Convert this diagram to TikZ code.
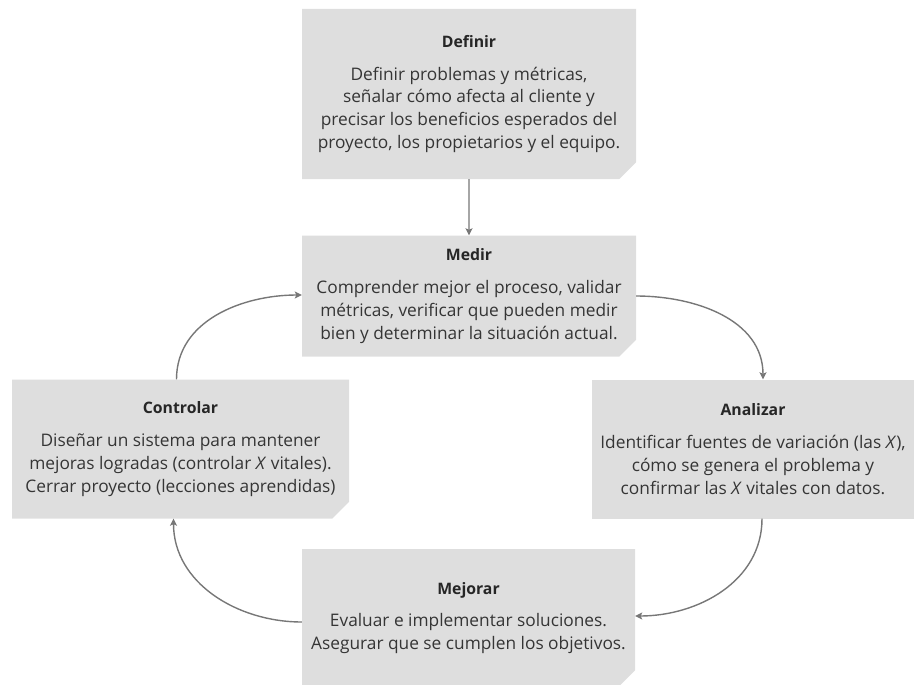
\documentclass[tikz,border=0pt]{standalone}
\usepackage{fontspec}
\setmainfont{Open Sans}
\usetikzlibrary{arrows.meta,shapes.misc}
\definecolor{cajagris}{HTML}{DEDEDE}
\definecolor{textogris}{HTML}{353535}
\definecolor{flechagris}{HTML}{777777}
\tikzset{
  paso/.style={chamfered rectangle, chamfered rectangle corners=south east,
    chamfered rectangle xsep=13pt, fill=cajagris, draw=none, inner ysep=0pt, inner xsep=-10pt,
    align=center, text=textogris, font=\fontsize{17.3}{22.8}\selectfont},
  flujo/.style={-{Stealth[length=7pt,width=7pt,inset=1.5pt]}, line width=1.4pt, flechagris}
}
\newcommand{\titulo}[1]{{\fontsize{15.8}{22.8}\selectfont\color{black!85}\bfseries #1}\\[10pt]}
\begin{document}
\begin{tikzpicture}[x=1pt,y=-1pt]
  \useasboundingbox (0,0) rectangle (916,685);
  \node[paso, minimum width=334pt, minimum height=170pt] (definir) at (469,94)
    {\titulo{Definir}Definir problemas y métricas,\\señalar cómo afecta al cliente y\\precisar los beneficios esperados del\\proyecto, los propietarios y el equipo.};
  \node[paso, minimum width=334pt, minimum height=121pt] (medir) at (469,296)
    {\titulo{Medir}Comprender mejor el proceso, validar\\métricas, verificar que pueden medir\\bien y determinar la situación actual.};
  \node[paso, minimum width=337pt, minimum height=139pt] (controlar) at (180.5,449)
    {\titulo{Controlar}Diseñar un sistema para mantener\\mejoras logradas (controlar \textit{X} vitales).\\Cerrar proyecto (lecciones aprendidas)};
  \node[paso, rectangle, inner xsep=0pt, minimum width=322pt, minimum height=139pt] (analizar) at (753,449)
    {\titulo{Analizar}Identificar fuentes de variación (las \textit{X}),\\cómo se genera el problema y\\confirmar las \textit{X} vitales con datos.};
  \node[paso, minimum width=333pt, minimum height=138pt] (mejorar) at (468.5,618)
    {\titulo{Mejorar}Evaluar e implementar soluciones.\\Asegurar que se cumplen los objetivos.};
  \draw[flujo] (definir) -- (medir);
  \draw[flujo] (medir.east) to[out=0,in=90] ([xshift=10pt]analizar.north);
  \draw[flujo] ([xshift=9pt]analizar.south) to[out=-90,in=0] ([yshift=2pt]mejorar.east);
  \draw[flujo] ([yshift=-4pt]mejorar.west) to[out=180,in=-90] ([xshift=-7pt]controlar.south);
  \draw[flujo] ([xshift=-4pt]controlar.north) to[out=90,in=180] ([yshift=1pt]medir.west);
\end{tikzpicture}
\end{document}
